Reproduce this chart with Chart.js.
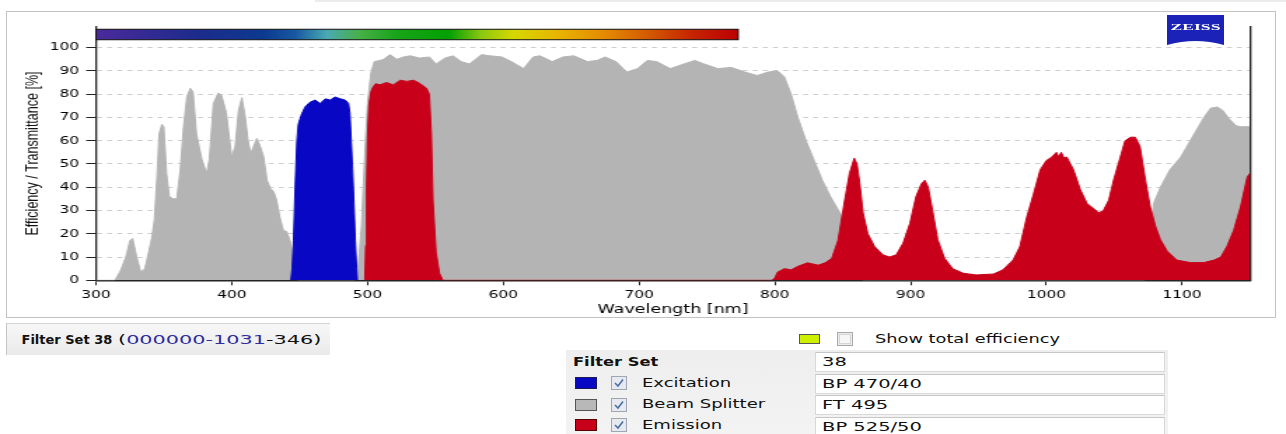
<!DOCTYPE html>
<html>
<head>
<meta charset="utf-8">
<script src="https://cdn.jsdelivr.net/npm/chart.js@4.4.1/dist/chart.umd.min.js"></script>
<style>
    html, body { margin: 0; padding: 0; background: #fff; width: 1286px; height: 434px; overflow: hidden;
                 font-family: "DejaVu Sans", Verdana, sans-serif; color: #111; }
    .abs { position: absolute; }
    .txt { position: absolute; white-space: nowrap; line-height: 16px; height: 16px; transform-origin: 0 50%; }
    #topline { left: 315px; top: 0; width: 971px; height: 2px; background: #ececec; }
    #panel { left: 6px; top: 11px; width: 1270px; height: 307px; border: 1px solid #c2c2c2; box-sizing: border-box; }
    /* the reference image is stretched sideways, so the plot is drawn narrower and widened */
    #plotwrap { left: 0; top: 0; width: 918px; height: 320px; transform: scaleX(1.40087); transform-origin: 0 0; }
    #fsbox { left: 6px; top: 323px; width: 324px; height: 32px; box-sizing: border-box;
             background: linear-gradient(#f7f7f7, #eaeaea); border-top: 1px solid #d4d4d4; border-left: 1px solid #c4c4c4; }
    #tablebg { left: 566px; top: 350px; width: 602px; height: 84px; background: linear-gradient(#eeeeee, #f3f3f3); }
    .field { position: absolute; left: 815px; width: 350px; height: 20px; box-sizing: border-box; background: #fff;
             border: 1px solid #d8d8d8; border-top-color: #c6c6c6; }
    .swatch { position: absolute; left: 575px; width: 22px; height: 12px; box-sizing: border-box; }
</style>
</head>
<body>
<div class="abs" id="topline"></div>
<div class="abs" id="panel"></div>
<div class="abs" id="plotwrap"><canvas id="spectra"></canvas></div>

<svg class="abs" style="left:1167px;top:15px" width="57" height="30">
    <path d="M0 0 H57 V30 Q28.5 22 0 30 Z" fill="#1a22b8"/>
    <text x="28.5" y="14.5" text-anchor="middle" font-family="Liberation Serif, serif" font-weight="bold"
          font-size="9" fill="#ffffff" textLength="50" lengthAdjust="spacingAndGlyphs">ZEISS</text>
</svg>

<div class="abs" id="fsbox"></div>
<span class="txt" style="left:21.5px;top:332px;font-size:13px;font-weight:bold;">Filter Set 38</span>
<span class="txt" style="left:118px;top:332px;font-size:13px;transform:scaleX(1.6);">(<span style="color:#2e2e9e">000000-1031</span>-346)</span>

<div class="swatch" style="left:799px;top:334px;width:21px;height:10px;background:#cdf000;border:1px solid #555;"></div>
<svg class="abs" style="left:837px;top:332px" width="16" height="14">
    <rect x="0.5" y="0.5" width="15" height="13" fill="#ececec" stroke="#a8a8a8"/>
    <rect x="2.5" y="2.5" width="11" height="9" fill="#f6f6f6" stroke="#d4d4d4"/>
</svg>
<span class="txt" style="left:875px;top:330.5px;font-size:12px;transform:scaleX(1.48);">Show total efficiency</span>

<div class="abs" id="tablebg"></div>
<span class="txt" style="left:573px;top:354px;font-size:13px;font-weight:bold;transform:scaleX(1.25);">Filter Set</span>
<div class="field" style="top:352px;"></div>
<div class="field" style="top:373.5px;"></div>
<div class="field" style="top:395px;"></div>
<div class="field" style="top:416.5px;"></div>
<span class="txt" style="left:822px;top:354px;font-size:13px;transform:scaleX(1.5);">38</span>
<span class="txt" style="left:822px;top:375.5px;font-size:13px;transform:scaleX(1.5);">BP 470/40</span>
<span class="txt" style="left:822px;top:397px;font-size:13px;transform:scaleX(1.5);">FT 495</span>
<span class="txt" style="left:822px;top:418.5px;font-size:13px;transform:scaleX(1.5);">BP 525/50</span>

<div class="swatch" style="top:377px;background:#0808c4;border:1px solid #1a1a5a;"></div>
<div class="swatch" style="top:398.5px;background:#b8b8b8;border:1px solid #555;"></div>
<div class="swatch" style="top:419px;background:#c8001a;border:1px solid #5a0000;"></div>
<svg class="abs" style="left:611px;top:376px" width="16" height="14"><rect x="0.5" y="0.5" width="15" height="13" fill="#e6eaf0" stroke="#9ea6b2"/><polyline points="4,7 7,10 12,3.5" fill="none" stroke="#4a6fa5" stroke-width="1.6"/></svg>
<svg class="abs" style="left:611px;top:397.5px" width="16" height="14"><rect x="0.5" y="0.5" width="15" height="13" fill="#e6eaf0" stroke="#9ea6b2"/><polyline points="4,7 7,10 12,3.5" fill="none" stroke="#4a6fa5" stroke-width="1.6"/></svg>
<svg class="abs" style="left:611px;top:418px" width="16" height="14"><rect x="0.5" y="0.5" width="15" height="13" fill="#e6eaf0" stroke="#9ea6b2"/><polyline points="4,7 7,10 12,3.5" fill="none" stroke="#4a6fa5" stroke-width="1.6"/></svg>
<span class="txt" style="left:641.5px;top:375px;font-size:12px;transform:scaleX(1.5);">Excitation</span>
<span class="txt" style="left:641.5px;top:396px;font-size:12px;transform:scaleX(1.5);">Beam Splitter</span>
<span class="txt" style="left:641.5px;top:417px;font-size:12px;transform:scaleX(1.5);">Emission</span>

<script>
// Beam splitter FT 495 (grey)
const bsWl = [300, 314, 318, 322, 325, 327, 330, 333, 336, 338, 341, 343, 345, 346.5, 348.5, 350, 352, 354, 357, 359.5,
    362, 364.5, 367, 369.5, 371.5, 374, 378, 381.5, 383.5, 386.5, 390, 392.5, 396, 400, 402.5, 405, 407.5, 410, 412, 414,
    416, 418.5, 421, 423.5, 426, 428.5, 431, 433, 435.5, 438, 440.5, 443, 445, 447, 449, 490, 492.5, 494, 495.5, 497,
    498.5, 500, 502.5, 505, 509, 512, 516.5, 521.5, 526.5, 531.5, 538.5, 545.5, 550.5, 557, 563, 569, 575, 584, 590, 599,
    606, 615, 622, 627, 636, 644, 652, 662, 669, 675, 683, 691, 699, 706, 713, 723, 733, 741, 748, 758,
    768, 778, 787, 795, 802, 807, 812, 817, 823, 829, 835, 841, 846, 850, 855, 860, 865, 1072, 1076, 1079,
    1084, 1091, 1099, 1106, 1112, 1116, 1121, 1126, 1130, 1134.5, 1139.5, 1143, 1150];
const bsVal = [0, 0, 4, 10, 17, 18, 10, 3.5, 5, 10, 18, 26, 45, 63, 67, 66, 46, 36, 35, 35,
    47, 66, 79, 82.5, 81, 63, 52, 46, 52, 76, 80.5, 79.5, 72, 53, 57.5, 73, 78.5, 70, 60, 54.5,
    57.5, 61, 57.5, 53, 43, 39.5, 38, 34.5, 27, 21.5, 21, 17, 11, 4, 0, 0, 3, 12, 23, 42,
    60, 76, 89, 94, 94.5, 95, 97, 95, 96, 96.5, 95.5, 96, 93, 95.5, 96.5, 94, 93, 97, 96.5, 96,
    94, 91, 96, 96.5, 94, 96, 96.5, 94, 94.5, 96, 94, 89.5, 91, 94.5, 94, 91, 93, 94.5, 93, 91,
    91.5, 89.5, 88, 89.5, 90, 87.5, 80, 70, 60, 51.5, 43, 36, 31, 27, 15, 5, 0, 0, 18, 33,
    40, 47.5, 53, 60, 66, 70, 74, 74.5, 73, 69.5, 66.5, 66, 66];

// Excitation BP 470/40 (blue)
const exWl = [443.5, 444.5, 445.5, 446.7, 448, 449, 451.5, 454, 457.5, 461.5, 465, 469, 472.5, 476, 480, 483.5,
    486, 487, 488, 489, 490, 491, 492, 492.5];
const exVal = [0, 5, 17, 40, 60, 67, 71.5, 74.5, 76.5, 77.5, 76, 78, 77.5, 78.8, 78, 77.5,
    76, 72, 60, 48, 33, 17, 5, 0];

// Emission BP 525/50 (red)
const emWl = [498, 498.7, 499.3, 500, 501, 502.5, 504, 506, 509, 514, 519, 524, 529, 534, 539, 543.5, 545.5, 547, 548.2, 550.5,
    553, 555.5, 798, 800, 802, 807, 812, 817, 824, 832, 837, 842, 846.5, 851.5, 855, 858.5, 860.5, 862.5, 865, 868.5,
    873.5, 879.5, 884.5, 889.5, 894.5, 899.5, 904, 908, 910.5, 913, 916.5, 920, 925, 931, 939, 948.5, 961, 968, 975.5, 980.5,
    985.5, 990.5, 995.5, 1000, 1004, 1007.5, 1009, 1011, 1013, 1015, 1020, 1025, 1030, 1034.5, 1038.5, 1042, 1046, 1049.5, 1054.5, 1058,
    1062, 1065.5, 1069, 1073, 1076.5, 1080.5, 1084, 1089, 1096, 1106, 1116, 1123.5, 1128.5, 1133, 1138, 1143, 1148, 1150];
const emVal = [0, 15, 40, 62, 75, 81, 83, 84.5, 84, 85, 84, 86, 85.5, 86, 84.5, 82.5, 80, 63, 34.5, 12,
    3, 0, 0, 1, 3.5, 5, 4.5, 6, 7.5, 6.5, 7.5, 9.5, 17, 34.5, 46, 52.5, 50, 42, 29, 20,
    14.5, 11, 10, 11, 16, 24.5, 36, 41.5, 43, 40, 29, 17.5, 9.5, 5, 3, 2.3, 2.7, 4.5, 8.7, 14.5,
    27, 37, 47.5, 51.5, 53, 55, 53, 55, 52.5, 53, 47.5, 39, 33, 31, 29, 30, 34.5, 43, 53, 60,
    61.5, 61.5, 57.5, 43, 31.5, 23, 17.5, 12.5, 8.7, 7.6, 7.6, 8.7, 10, 14.5, 21.5, 31.5, 44.5, 46];

// visible spectrum bar above the plot
const barRange = [300, 773];
const barStopPos = [0, 0.06, 0.16, 0.26, 0.31, 0.36, 0.41, 0.47, 0.55, 0.6, 0.65, 0.72, 0.79, 0.86, 0.93, 1];
const barStopColors = ['#4b2a9c', '#3a2a96', '#1c2c8c', '#0c3a90', '#1858a2', '#4aaab2', '#48b048', '#18a418',
    '#04a004', '#8cc810', '#d6d800', '#e8b400', '#e48c00', '#d45a00', '#c42400', '#be0000'];

const FONT = 'DejaVu Sans';
const INK = '#000000';

const pts = (wl, vals) => wl.map((w, i) => ({ x: w, y: vals[i] }));

const spectrumBar = {
    id: 'spectrumBar',
    afterDatasetsDraw(chart) {
        const { ctx, scales: { x, y } } = chart;
        const left = x.getPixelForValue(barRange[0]);
        const right = x.getPixelForValue(barRange[1]);
        const top = y.getPixelForValue(107.9);
        const bottom = y.getPixelForValue(103.4);
        const grad = ctx.createLinearGradient(left, 0, right, 0);
        barStopPos.forEach((p, i) => grad.addColorStop(p, barStopColors[i]));
        ctx.save();
        ctx.fillStyle = grad;
        ctx.fillRect(left, top, right - left, bottom - top);
        ctx.strokeStyle = '#111';
        ctx.lineWidth = 1;
        ctx.strokeRect(left, top, right - left, bottom - top);
        ctx.restore();
    }
};

new Chart(document.getElementById('spectra'), {
    type: 'line',
    data: {
        datasets: [
            { label: 'Beam Splitter', data: pts(bsWl, bsVal), borderColor: '#b4b4b4', backgroundColor: '#b4b4b4', fill: 'origin', order: 3 },
            { label: 'Excitation', data: pts(exWl, exVal), borderColor: '#0808c4', backgroundColor: '#0808c4', fill: 'origin', order: 2 },
            { label: 'Emission', data: pts(emWl, emVal), borderColor: '#c8001a', backgroundColor: '#c8001a', fill: 'origin', order: 1 }
        ]
    },
    options: {
        responsive: true,
        maintainAspectRatio: false,
        animation: false,
        elements: { point: { radius: 0 }, line: { borderWidth: 1, tension: 0 } },
        layout: { padding: { top: 26.7, left: 0, right: 0, bottom: 0 } },
        plugins: { legend: { display: false }, tooltip: { enabled: false } },
        scales: {
            x: {
                type: 'linear', min: 300, max: 1150, z: 1,
                ticks: { stepSize: 100, includeBounds: false, padding: 3, maxRotation: 0, autoSkip: false,
                         color: INK, font: { family: FONT, size: 11 }, callback: v => String(v) },
                grid: { drawOnChartArea: false, tickLength: 5, tickColor: '#222', tickWidth: 1 },
                border: { color: '#222', width: 1.6 },
                title: { display: true, text: 'Wavelength [nm]', color: INK,
                         font: { family: FONT, size: 12.5 }, padding: { top: 0, bottom: 2.5 } },
                afterFit: s => { s.height = 39.7; }
            },
            y: {
                position: 'left', min: 0, max: 109, z: 1,
                ticks: { stepSize: 10, includeBounds: false, padding: 5, color: INK, font: { family: FONT, size: 11 } },
                grid: {
                    color: c => (c.tick && c.tick.value === 0) ? 'rgba(0,0,0,0)' : '#cdcdcd',
                    lineWidth: 1, tickLength: 7, tickColor: '#222', tickWidth: 1
                },
                border: { color: '#222', width: 1.3, dash: [3.6, 3.6] },
                title: { display: true, text: 'Efficiency / Transmittance [%]', color: '#111',
                         font: { family: 'Liberation Sans', size: 12.5 }, padding: { top: 16, bottom: 0 } },
                afterFit: s => { s.width = 68.5; }
            },
            yRight: {
                position: 'right', min: 0, max: 109, z: 1,
                ticks: { display: false },
                grid: { display: false },
                border: { color: '#222', width: 1.3 },
                afterFit: s => { s.width = 25.7; }
            }
        }
    },
    plugins: [spectrumBar]
});
</script>
</body>
</html>
